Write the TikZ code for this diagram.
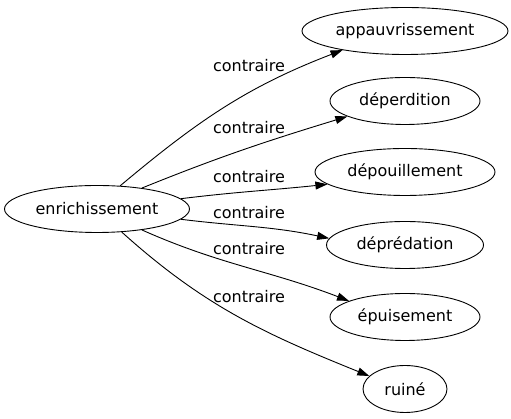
\documentclass[tikz,border=0pt]{standalone}
\usepackage{fontspec}
\setmainfont{DejaVu Sans}
\usetikzlibrary{shapes.geometric,arrows.meta}
\begin{document}
\begin{tikzpicture}[x=1pt,y=1pt,
  word/.style={ellipse,draw,line width=0.9pt,inner sep=0pt,minimum height=47pt,font=\fontsize{16}{18}\selectfont},
  rel/.style={font=\fontsize{16}{18}\selectfont,inner sep=0pt},
  edge/.style={line width=0.9pt,-{Triangle[length=12pt,width=8pt]}}]
\useasboundingbox (0,0) rectangle (511,419);
\node[word,minimum width=185pt] (e) at (97,210) {enrichissement};
\node[word,minimum width=206pt] (a) at (405,388) {appauvrissement};
\node[word,minimum width=150pt] (d1) at (405,318) {déperdition};
\node[word,minimum width=180pt] (d2) at (405,247) {dépouillement};
\node[word,minimum width=157pt] (d3) at (405,174) {déprédation};
\node[word,minimum width=150pt] (ep) at (405,102) {épuisement};
\node[word,minimum width=84pt] (r) at (405,30) {ruiné};
\node[rel] (l1) at (249,353) {contraire};
\node[rel] (l2) at (249,291) {contraire};
\node[rel] (l3) at (249,242) {contraire};
\node[rel] (l4) at (249,206) {contraire};
\node[rel] (l5) at (249,170) {contraire};
\node[rel] (l6) at (249,122) {contraire};
\draw[edge] (e.45) to[out=40,in=201] (a.197);
\draw[edge] (e.25) to[out=22,in=197] (d1.195);
\draw[edge] (e.7) to[out=7,in=186] (d2.189);
\draw[edge] (e.-7) to[out=-7,in=168] (d3.175);
\draw[edge] (e.-25) to[out=-24,in=159] (ep.164);
\draw[edge] (e.-43) to[out=-42,in=158] (r.160);
\end{tikzpicture}
\end{document}
